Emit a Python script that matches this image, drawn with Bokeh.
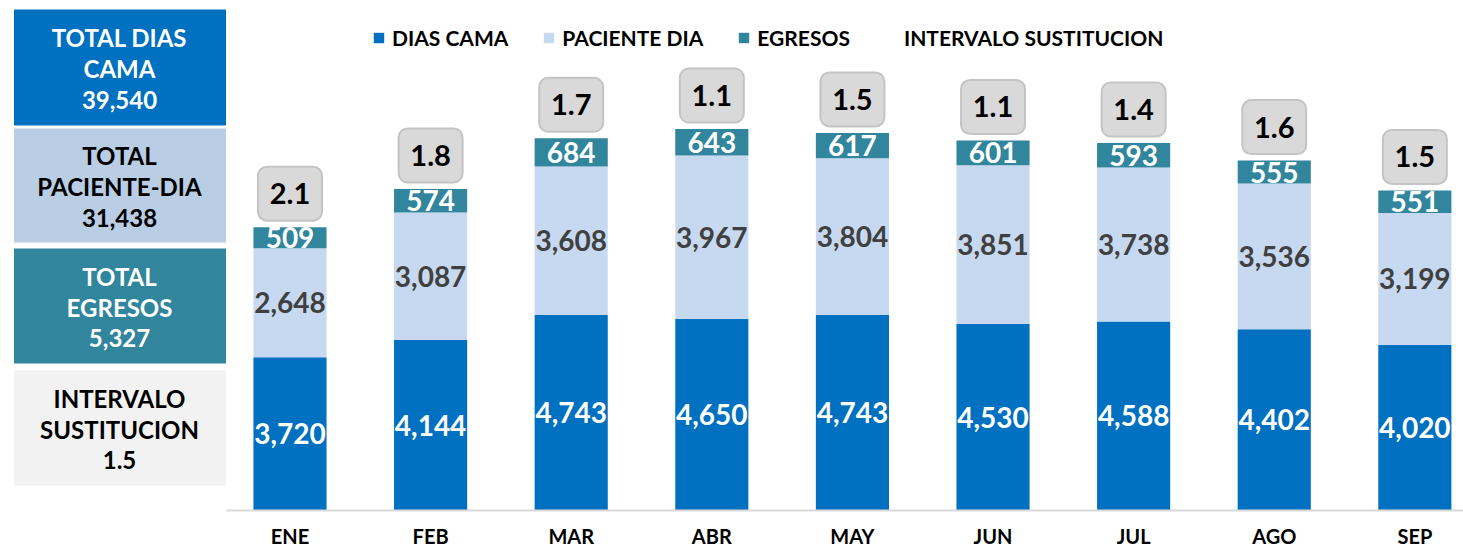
from bokeh.plotting import figure
from bokeh.layouts import row
from bokeh.models import Range1d, ColumnDataSource, FixedTicker, Legend, LegendItem
from bokeh.core.properties import value
from bokeh.embed import file_html
from bokeh.resources import INLINE
import numpy as np

# ---------------- data ----------------
months = ["ENE", "FEB", "MAR", "ABR", "MAY", "JUN", "JUL", "AGO", "SEP"]
dias_cama = [3720, 4144, 4743, 4650, 4743, 4530, 4588, 4402, 4020]
paciente_dia = [2648, 3087, 3608, 3967, 3804, 3851, 3738, 3536, 3199]
egresos = [509, 574, 684, 643, 617, 601, 593, 555, 551]
intervalo = [2.1, 1.8, 1.7, 1.1, 1.5, 1.1, 1.4, 1.6, 1.5]
series_names = ["DIAS CAMA", "PACIENTE DIA", "EGRESOS", "INTERVALO SUSTITUCION"]

# ---------------- style ----------------
C_CAMA = "#0070C0"
C_PAC = "#C6D9F1"
C_EGR = "#31859C"
C_INT = "#F2F2F2"
C_BOX2 = "#B9CDE5"
FONT = "Lato"

W_LEFT = 226
W_MAIN = 1237
H = 551
BOTTOM = 41
FRAME_H = H - BOTTOM
PX_PER_UNIT = 0.0412
Y_END = FRAME_H / PX_PER_UNIT
U = 1 / PX_PER_UNIT  # data units per pixel

x = np.arange(len(months))
cama = np.array(dias_cama)
pac = np.array(paciente_dia)
egr = np.array(egresos)
total = cama + pac + egr

# ---------------- main chart ----------------
p = figure(width=W_MAIN, height=H, x_range=Range1d(-0.4516, 8.346),
           y_range=Range1d(0, Y_END), output_backend="svg", toolbar_location=None,
           y_axis_location=None, min_border_left=0, min_border_right=0,
           min_border_top=0, min_border_bottom=BOTTOM)
p.outline_line_color = None
p.grid.visible = False
p.background_fill_color = "white"
p.border_fill_color = "white"

src = ColumnDataSource(dict(x=x, cama=cama, pac=pac, egr=egr))
rs = p.vbar_stack(["cama", "pac", "egr"], x="x", width=0.52, source=src,
                  fill_color=[C_CAMA, C_PAC, C_EGR], line_color=None)

lab = ColumnDataSource(dict(
    x=np.concatenate([x, x, x]),
    y=np.concatenate([cama / 2, cama + pac / 2, cama + pac + egr / 2]),
    t=[f"{v:,}" for v in dias_cama] + [f"{v:,}" for v in paciente_dia] + [f"{v:,}" for v in egresos],
    c=["white"] * len(x) + ["#404040"] * len(x) + ["white"] * len(x),
))
p.text(x="x", y="y", text="t", source=lab, text_color="c", text_align="center",
       text_baseline="middle", text_font=value(FONT), text_font_size="28px",
       text_font_style="bold")

# intervalo boxes
ib = total + 6.5 * U
it = ib + 54 * U
isrc = ColumnDataSource(dict(x=x, b=ib, t=it, m=(ib + it) / 2,
                             s=[f"{v:.1f}" for v in intervalo]))
p.vbar(x="x", bottom="b", top="t", width=0.455, source=isrc, fill_color="#D9D9D9",
       line_color="#C4C4C4", line_width=2, border_radius=9)
p.text(x="x", y="m", text="s", source=isrc, text_color="black", text_align="center",
       text_baseline="middle", text_font=value(FONT), text_font_size="29px",
       text_font_style="bold")

r_int = p.vbar(x=[], top=[], width=0.5, fill_color=C_INT, line_color=None)

legend = Legend(items=[LegendItem(label=series_names[0], renderers=[rs[0]]),
                       LegendItem(label=series_names[1], renderers=[rs[1]]),
                       LegendItem(label=series_names[2], renderers=[rs[2]]),
                       LegendItem(label=series_names[3], renderers=[r_int])],
                orientation="horizontal", location=(146, FRAME_H - 50),
                padding=0, margin=0, spacing=34, label_standoff=7,
                glyph_width=13, glyph_height=13,
                label_text_font=FONT, label_text_font_size="21px",
                label_text_font_style="bold", label_text_color="black",
                border_line_color=None, background_fill_alpha=0)
p.add_layout(legend)

ax = p.xaxis[0]
ax.ticker = FixedTicker(ticks=list(x))
ax.major_label_overrides = {int(i): m for i, m in zip(x, months)}
ax.axis_line_color = "#D9D9D9"
ax.axis_line_width = 2
ax.major_tick_line_color = None
ax.minor_tick_line_color = None
ax.major_tick_out = 0
ax.major_tick_in = 0
ax.major_label_text_font = FONT
ax.major_label_text_font_size = "20px"
ax.major_label_text_font_style = "bold"
ax.major_label_text_color = "black"
ax.major_label_text_line_height = 1.0
ax.major_label_standoff = 13

# ---------------- left summary panel ----------------
left = figure(width=W_LEFT, height=H, x_range=Range1d(0, W_LEFT), y_range=Range1d(FRAME_H, 0),
              output_backend="svg", toolbar_location=None, x_axis_location=None,
              y_axis_location=None, min_border_left=0, min_border_right=0,
              min_border_top=0, min_border_bottom=BOTTOM)
left.outline_line_color = None
left.grid.visible = False

box_top = [9, 128, 248, 370]
box_bot = [125, 242, 363, 485]
box_col = [C_CAMA, C_BOX2, C_EGR, C_INT]
txt_col = ["white", "black", "white", "black"]
tot_str = [f"{cama.sum():,}", f"{pac.sum():,}", f"{egr.sum():,}", f"{np.mean(intervalo):.1f}"]
box_lines = [["TOTAL DIAS", "CAMA"], ["TOTAL", "PACIENTE-DIA"], ["TOTAL", "EGRESOS"],
             ["INTERVALO", "SUSTITUCION"]]

left.quad(left=[13.5] * 4, right=[226] * 4, top=box_top, bottom=box_bot,
          fill_color=box_col, line_color=None)
tx, ty, tt, tc = [], [], [], []
for i in range(4):
    cy = (box_top[i] + box_bot[i]) / 2 + 1
    lines = box_lines[i] + [tot_str[i]]
    for j, ln in enumerate(lines):
        tx.append(119)
        ty.append(cy + (j - 1) * 31)
        tt.append(ln)
        tc.append(txt_col[i])
left.text(x=tx, y=ty, text=tt, text_color=tc, text_align="center", text_baseline="middle",
          text_font=value(FONT), text_font_size="24px", text_font_style="bold")

layout = row(left, p)
open("out.html", "w").write(file_html(layout, INLINE))
